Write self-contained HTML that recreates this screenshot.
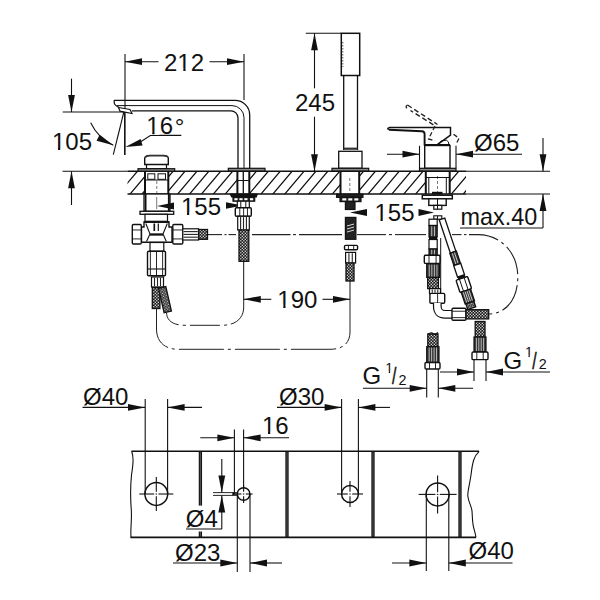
<!DOCTYPE html>
<html><head><meta charset="utf-8"><style>
html,body{margin:0;padding:0;background:#fff;}
svg{display:block;}
text{font-family:"Liberation Sans",sans-serif;fill:#111;}
</style></head><body>
<svg width="600" height="600" viewBox="0 0 600 600">
<defs>
<pattern id="br" width="3" height="3" patternUnits="userSpaceOnUse"><rect width="3" height="3" fill="#1a1a1a"/><rect x="0.2" y="0.2" width="1.2" height="1.2" fill="#fff"/><rect x="1.7" y="1.7" width="1.2" height="1.2" fill="#fff"/></pattern>
<clipPath id="hatchclip">
<path d="M127.5 171.3 H145 V194 H127.5 Z M168.3 171.3 H237.4 V194 H168.3 Z M249.3 171.3 H340.5 V194 H249.3 Z M359.2 171.3 H425.8 V194 H359.2 Z M449.7 171.3 H466 L466 194 H449.7 Z"/>
</clipPath>
</defs>
<rect width="600" height="600" fill="#fff"/>
<line x1="131.50" y1="451.30" x2="479.00" y2="451.30" stroke="#111" stroke-width="1.6" />
<line x1="130.50" y1="537.40" x2="476.00" y2="537.40" stroke="#111" stroke-width="1.6" />
<path d="M131.7 451.3 C134 458 133 465 131.5 475 C130.5 485 130.5 500 131.3 510 C132 520 130.3 528 131 537.4" stroke="#111" stroke-width="1.1" fill="none" />
<path d="M479.2 451.3 C474 456 472.5 462 471 475 C469.5 485 467.5 492 467.8 496 C468.5 502 471.5 506 472 511 C472.5 517 472.3 522 473.5 527 C474.5 531 475.5 534 476 537.4" stroke="#111" stroke-width="1.1" fill="none" />
<line x1="200.40" y1="451.30" x2="200.40" y2="537.40" stroke="#151515" stroke-width="3.3" />
<line x1="200.40" y1="452.30" x2="200.40" y2="536.40" stroke="#666" stroke-width="0.8" />
<line x1="287.00" y1="451.30" x2="287.00" y2="537.40" stroke="#151515" stroke-width="3.3" />
<line x1="287.00" y1="452.30" x2="287.00" y2="536.40" stroke="#666" stroke-width="0.8" />
<line x1="373.00" y1="451.30" x2="373.00" y2="537.40" stroke="#151515" stroke-width="3.3" />
<line x1="373.00" y1="452.30" x2="373.00" y2="536.40" stroke="#666" stroke-width="0.8" />
<line x1="460.00" y1="451.30" x2="460.00" y2="537.40" stroke="#151515" stroke-width="3.3" />
<line x1="460.00" y1="452.30" x2="460.00" y2="536.40" stroke="#666" stroke-width="0.8" />
<rect x="197.50" y="505.60" width="6.00" height="25.90" stroke="#fff" stroke-width="0" fill="#fff" />
<circle cx="156.3" cy="494" r="11.4" stroke="#111" stroke-width="1.5" fill="none"/>
<line x1="139.30" y1="494.00" x2="154.10" y2="494.00" stroke="#111" stroke-width="1.1" />
<line x1="158.50" y1="494.00" x2="173.30" y2="494.00" stroke="#111" stroke-width="1.1" />
<line x1="156.30" y1="477.00" x2="156.30" y2="491.80" stroke="#111" stroke-width="1.1" />
<line x1="156.30" y1="496.20" x2="156.30" y2="511.00" stroke="#111" stroke-width="1.1" />
<line x1="155.60" y1="494.00" x2="157.00" y2="494.00" stroke="#111" stroke-width="1.1" />
<circle cx="350" cy="494" r="8.4" stroke="#111" stroke-width="1.5" fill="none"/>
<line x1="337.00" y1="494.00" x2="347.80" y2="494.00" stroke="#111" stroke-width="1.1" />
<line x1="352.20" y1="494.00" x2="363.00" y2="494.00" stroke="#111" stroke-width="1.1" />
<line x1="350.00" y1="481.00" x2="350.00" y2="491.80" stroke="#111" stroke-width="1.1" />
<line x1="350.00" y1="496.20" x2="350.00" y2="507.00" stroke="#111" stroke-width="1.1" />
<line x1="349.30" y1="494.00" x2="350.70" y2="494.00" stroke="#111" stroke-width="1.1" />
<circle cx="437.6" cy="494.4" r="11.5" stroke="#111" stroke-width="1.5" fill="none"/>
<line x1="418.60" y1="494.40" x2="435.40" y2="494.40" stroke="#111" stroke-width="1.1" />
<line x1="439.80" y1="494.40" x2="456.60" y2="494.40" stroke="#111" stroke-width="1.1" />
<line x1="437.60" y1="475.40" x2="437.60" y2="492.20" stroke="#111" stroke-width="1.1" />
<line x1="437.60" y1="496.60" x2="437.60" y2="513.40" stroke="#111" stroke-width="1.1" />
<line x1="436.90" y1="494.40" x2="438.30" y2="494.40" stroke="#111" stroke-width="1.1" />
<circle cx="243.6" cy="494" r="6.3" stroke="#111" stroke-width="1.5" fill="none"/>
<line x1="234.60" y1="494.00" x2="241.40" y2="494.00" stroke="#111" stroke-width="1.1" />
<line x1="245.80" y1="494.00" x2="252.60" y2="494.00" stroke="#111" stroke-width="1.1" />
<line x1="243.60" y1="485.00" x2="243.60" y2="491.80" stroke="#111" stroke-width="1.1" />
<line x1="243.60" y1="496.20" x2="243.60" y2="503.00" stroke="#111" stroke-width="1.1" />
<line x1="242.90" y1="494.00" x2="244.30" y2="494.00" stroke="#111" stroke-width="1.1" />
<line x1="145.20" y1="399.00" x2="145.20" y2="494.00" stroke="#111" stroke-width="1.1" />
<line x1="167.60" y1="399.00" x2="167.60" y2="494.00" stroke="#111" stroke-width="1.1" />
<line x1="82.50" y1="407.40" x2="145.00" y2="407.40" stroke="#111" stroke-width="1.1" />
<path d="M145.00 407.40 L128.00 410.80 L128.00 404.00 Z" fill="#111" stroke="none"/>
<path d="M167.60 407.40 L184.60 404.00 L184.60 410.80 Z" fill="#111" stroke="none"/>
<line x1="167.60" y1="407.40" x2="202.00" y2="407.40" stroke="#111" stroke-width="1.1" />
<line x1="341.60" y1="399.00" x2="341.60" y2="494.00" stroke="#111" stroke-width="1.1" />
<line x1="358.40" y1="399.00" x2="358.40" y2="494.00" stroke="#111" stroke-width="1.1" />
<line x1="277.00" y1="407.40" x2="341.60" y2="407.40" stroke="#111" stroke-width="1.1" />
<path d="M341.60 407.40 L324.60 410.80 L324.60 404.00 Z" fill="#111" stroke="none"/>
<path d="M358.40 407.40 L375.40 404.00 L375.40 410.80 Z" fill="#111" stroke="none"/>
<line x1="358.40" y1="407.40" x2="390.00" y2="407.40" stroke="#111" stroke-width="1.1" />
<line x1="234.40" y1="429.50" x2="234.40" y2="494.00" stroke="#111" stroke-width="1.1" />
<line x1="243.60" y1="429.50" x2="243.60" y2="488.00" stroke="#111" stroke-width="1.1" />
<line x1="200.30" y1="437.80" x2="234.40" y2="437.80" stroke="#111" stroke-width="1.1" />
<path d="M234.40 437.80 L217.40 441.20 L217.40 434.40 Z" fill="#111" stroke="none"/>
<path d="M243.60 437.80 L260.60 434.40 L260.60 441.20 Z" fill="#111" stroke="none"/>
<line x1="243.60" y1="437.80" x2="289.00" y2="437.80" stroke="#111" stroke-width="1.1" />
<line x1="213.00" y1="492.60" x2="238.00" y2="492.60" stroke="#111" stroke-width="0.9" />
<line x1="213.00" y1="495.40" x2="238.00" y2="495.40" stroke="#111" stroke-width="0.9" />
<line x1="221.80" y1="459.00" x2="221.80" y2="492.60" stroke="#111" stroke-width="1.1" />
<path d="M221.80 492.60 L218.40 475.60 L225.20 475.60 Z" fill="#111" stroke="none"/>
<path d="M221.80 495.40 L225.20 512.40 L218.40 512.40 Z" fill="#111" stroke="none"/>
<line x1="221.80" y1="495.40" x2="221.80" y2="529.00" stroke="#111" stroke-width="1.1" />
<line x1="186.00" y1="529.00" x2="222.00" y2="529.00" stroke="#111" stroke-width="1.1" />
<line x1="237.30" y1="494.00" x2="237.30" y2="572.00" stroke="#111" stroke-width="1.1" />
<line x1="250.00" y1="494.00" x2="250.00" y2="572.00" stroke="#111" stroke-width="1.1" />
<path d="M237.30 494.00 L232.30 495.60 L232.30 492.40 Z" fill="#111" stroke="none"/>
<line x1="173.00" y1="563.00" x2="237.30" y2="563.00" stroke="#111" stroke-width="1.1" />
<path d="M237.30 563.00 L220.30 566.40 L220.30 559.60 Z" fill="#111" stroke="none"/>
<path d="M250.00 563.00 L267.00 559.60 L267.00 566.40 Z" fill="#111" stroke="none"/>
<line x1="250.00" y1="563.00" x2="282.00" y2="563.00" stroke="#111" stroke-width="1.1" />
<line x1="426.30" y1="494.00" x2="426.30" y2="571.00" stroke="#111" stroke-width="1.1" />
<line x1="448.80" y1="494.00" x2="448.80" y2="571.00" stroke="#111" stroke-width="1.1" />
<line x1="392.00" y1="563.00" x2="426.30" y2="563.00" stroke="#111" stroke-width="1.1" />
<path d="M426.30 563.00 L409.30 566.40 L409.30 559.60 Z" fill="#111" stroke="none"/>
<path d="M448.80 563.00 L465.80 559.60 L465.80 566.40 Z" fill="#111" stroke="none"/>
<line x1="448.80" y1="563.00" x2="512.50" y2="563.00" stroke="#111" stroke-width="1.1" />
<g clip-path="url(#hatchclip)"><path d="M82.10 194.5 L102.10 170.8 M94.00 194.5 L114.00 170.8 M105.90 194.5 L125.90 170.8 M117.80 194.5 L137.80 170.8 M129.70 194.5 L149.70 170.8 M141.60 194.5 L161.60 170.8 M153.50 194.5 L173.50 170.8 M165.40 194.5 L185.40 170.8 M177.30 194.5 L197.30 170.8 M189.20 194.5 L209.20 170.8 M201.10 194.5 L221.10 170.8 M213.00 194.5 L233.00 170.8 M224.90 194.5 L244.90 170.8 M236.80 194.5 L256.80 170.8 M248.70 194.5 L268.70 170.8 M260.60 194.5 L280.60 170.8 M272.50 194.5 L292.50 170.8 M284.40 194.5 L304.40 170.8 M296.30 194.5 L316.30 170.8 M308.20 194.5 L328.20 170.8 M320.10 194.5 L340.10 170.8 M332.00 194.5 L352.00 170.8 M343.90 194.5 L363.90 170.8 M355.80 194.5 L375.80 170.8 M367.70 194.5 L387.70 170.8 M379.60 194.5 L399.60 170.8 M391.50 194.5 L411.50 170.8 M403.40 194.5 L423.40 170.8 M415.30 194.5 L435.30 170.8 M427.20 194.5 L447.20 170.8 M439.10 194.5 L459.10 170.8 M451.00 194.5 L471.00 170.8 M462.90 194.5 L482.90 170.8 M474.80 194.5 L494.80 170.8 M486.70 194.5 L506.70 170.8 M498.60 194.5 L518.60 170.8" stroke="#111" stroke-width="1.25" fill="none"/></g>
<line x1="127.50" y1="171.30" x2="466.00" y2="171.30" stroke="#111" stroke-width="1.5" />
<line x1="62.50" y1="171.30" x2="127.50" y2="171.30" stroke="#111" stroke-width="1.1" />
<line x1="466.00" y1="171.30" x2="550.00" y2="171.30" stroke="#111" stroke-width="1.1" />
<line x1="127.50" y1="194.00" x2="466.00" y2="194.00" stroke="#111" stroke-width="1.5" />
<line x1="466.00" y1="194.00" x2="550.00" y2="194.00" stroke="#111" stroke-width="1.1" />
<line x1="125.00" y1="54.00" x2="125.00" y2="155.00" stroke="#111" stroke-width="1.1" />
<line x1="244.00" y1="54.00" x2="244.00" y2="100.00" stroke="#111" stroke-width="1.1" />
<path d="M125.00 61.70 L142.00 58.30 L142.00 65.10 Z" fill="#111" stroke="none"/>
<line x1="125.00" y1="61.70" x2="158.50" y2="61.70" stroke="#111" stroke-width="1.1" />
<path d="M244.00 61.70 L227.00 65.10 L227.00 58.30 Z" fill="#111" stroke="none"/>
<line x1="209.50" y1="61.70" x2="244.00" y2="61.70" stroke="#111" stroke-width="1.1" />
<line x1="71.50" y1="78.70" x2="71.50" y2="112.00" stroke="#111" stroke-width="1.1" />
<path d="M71.50 112.00 L68.10 95.00 L74.90 95.00 Z" fill="#111" stroke="none"/>
<line x1="62.70" y1="112.00" x2="124.50" y2="112.00" stroke="#111" stroke-width="1.1" />
<path d="M71.50 171.30 L74.90 188.30 L68.10 188.30 Z" fill="#111" stroke="none"/>
<line x1="71.50" y1="171.30" x2="71.50" y2="205.00" stroke="#111" stroke-width="1.1" />
<line x1="124.60" y1="108.00" x2="124.60" y2="155.00" stroke="#111" stroke-width="1.1" />
<line x1="124.60" y1="109.00" x2="113.30" y2="154.70" stroke="#111" stroke-width="1.1" />
<path d="M90.7 122.7 Q 98 138 113.3 145.3" stroke="#111" stroke-width="1.1" fill="none" />
<path d="M113.30 145.30 L96.57 140.74 L99.62 134.66 Z" fill="#111" stroke="none"/>
<path d="M138 143.5 L150.7 135.4 L181.3 135.4" stroke="#111" stroke-width="1.1" fill="none" />
<path d="M125.30 147.00 L140.65 138.95 L142.57 145.47 Z" fill="#111" stroke="none"/>
<line x1="305.80" y1="33.30" x2="341.50" y2="33.30" stroke="#111" stroke-width="1.1" />
<path d="M314.50 33.30 L317.90 50.30 L311.10 50.30 Z" fill="#111" stroke="none"/>
<line x1="314.50" y1="33.30" x2="314.50" y2="88.30" stroke="#111" stroke-width="1.1" />
<line x1="314.50" y1="116.70" x2="314.50" y2="171.30" stroke="#111" stroke-width="1.1" />
<path d="M314.50 171.30 L311.10 154.30 L317.90 154.30 Z" fill="#111" stroke="none"/>
<line x1="387.00" y1="154.20" x2="419.50" y2="154.20" stroke="#111" stroke-width="1.1" />
<path d="M419.50 154.20 L402.50 157.60 L402.50 150.80 Z" fill="#111" stroke="none"/>
<path d="M456.00 154.20 L473.00 150.80 L473.00 157.60 Z" fill="#111" stroke="none"/>
<line x1="456.00" y1="154.20" x2="522.00" y2="154.20" stroke="#111" stroke-width="1.1" />
<line x1="543.00" y1="138.00" x2="543.00" y2="171.30" stroke="#111" stroke-width="1.1" />
<path d="M543.00 171.30 L539.60 154.30 L546.40 154.30 Z" fill="#111" stroke="none"/>
<path d="M543.00 194.00 L546.40 211.00 L539.60 211.00 Z" fill="#111" stroke="none"/>
<line x1="543.00" y1="194.00" x2="543.00" y2="228.00" stroke="#111" stroke-width="1.1" />
<line x1="460.00" y1="228.00" x2="543.00" y2="228.00" stroke="#111" stroke-width="1.1" />
<path d="M243.80 299.30 L260.80 295.90 L260.80 302.70 Z" fill="#111" stroke="none"/>
<line x1="243.80" y1="299.30" x2="271.30" y2="299.30" stroke="#111" stroke-width="1.1" />
<line x1="322.50" y1="299.30" x2="350.00" y2="299.30" stroke="#111" stroke-width="1.1" />
<path d="M350.00 299.30 L333.00 302.70 L333.00 295.90 Z" fill="#111" stroke="none"/>
<path d="M114 100.3 L235 100.3 A14.7 14.7 0 0 1 249.7 115 L249.7 168.3" stroke="#111" stroke-width="1.3" fill="none" />
<path d="M116.5 105.6 L232 105.6 A12 12 0 0 1 244 117.6 L244 168.3" stroke="#111" stroke-width="1.0" fill="none" />
<path d="M132 110.8 L230.8 110.8 A7.2 7.2 0 0 1 238 118 L238 168.3" stroke="#111" stroke-width="1.3" fill="none" />
<path d="M114 100.3 L114.5 104 Q116 106.5 119 107.3" stroke="#111" stroke-width="1.2" fill="none" />
<path d="M118.5 107.5 L130 109.5 L132 113.5 L120 111.2 Z" stroke="#111" stroke-width="1.2" fill="#fff" />
<rect x="228.30" y="168.30" width="36.70" height="2.70" stroke="#111" stroke-width="1.2" fill="#888" />
<rect x="341.30" y="33.30" width="18.40" height="42.20" stroke="#111" stroke-width="1.5" fill="#fff" />
<line x1="342.80" y1="42.00" x2="342.80" y2="67.00" stroke="#555" stroke-width="1" stroke-dasharray="1.5 1.5"/>
<line x1="343.70" y1="75.50" x2="343.70" y2="150.00" stroke="#111" stroke-width="1.3" />
<line x1="357.50" y1="75.50" x2="357.50" y2="150.00" stroke="#111" stroke-width="1.3" />
<rect x="343.70" y="147.60" width="13.80" height="2.20" stroke="none" stroke-width="0" fill="#333" />
<rect x="338.70" y="151.30" width="23.30" height="17.00" stroke="#111" stroke-width="1.3" fill="#fff" />
<rect x="332.00" y="168.30" width="36.70" height="2.70" stroke="#111" stroke-width="1.2" fill="#888" />
<path d="M389 127.6 L450.5 127.6 L450.5 135 L437 144.8" stroke="#111" stroke-width="1.5" fill="none" />
<path d="M389 129.8 L421.8 131.3 Q424.6 131.5 424.6 134 L424.6 145.5" stroke="#111" stroke-width="1.9" fill="none" />
<path d="M389 127.6 Q386.6 128.6 389 129.6" stroke="#111" stroke-width="1.5" fill="none" />
<path d="M407.5 105 L437.5 124.5" stroke="#222" stroke-width="1.4" fill="none" stroke-dasharray="5 3"/>
<path d="M410.5 110.5 L434 125.2" stroke="#222" stroke-width="1.4" fill="none" stroke-dasharray="5 3" stroke-dashoffset="2"/>
<path d="M407.5 105 Q405 106.5 407 108.3" stroke="#222" stroke-width="1.3" fill="none" />
<path d="M435 126 L428.6 139 L435 140.8 M453.5 134.2 L459 138.3 L456 144.2" stroke="#222" stroke-width="1.3" fill="none" stroke-dasharray="4.5 2.5"/>
<path d="M437.5 144.3 Q441 139.5 446.5 140.2 Q449.3 141.5 448.8 144.5" stroke="#111" stroke-width="1.0" fill="none" />
<line x1="424.60" y1="145.00" x2="450.00" y2="145.00" stroke="#111" stroke-width="2.0" />
<rect x="424.70" y="145.50" width="25.30" height="22.80" stroke="#111" stroke-width="1.4" fill="#fff" />
<line x1="419.50" y1="145.80" x2="419.50" y2="168.30" stroke="#111" stroke-width="1.1" />
<line x1="456.00" y1="145.80" x2="456.00" y2="168.30" stroke="#111" stroke-width="1.1" />
<rect x="419.50" y="168.30" width="36.50" height="2.70" stroke="#111" stroke-width="1.2" fill="#888" />
<rect x="146.50" y="163.50" width="20.00" height="5.20" stroke="#111" stroke-width="1.2" fill="#fff" />
<path d="M144.7 164.5 L144.7 158.3 Q145 155.6 150 155.4 L163 155.4 Q168.3 155.6 168.3 158.3 L168.3 164.5 Z" stroke="#111" stroke-width="1.4" fill="#fff" />
<path d="M145.5 157.5 Q146 155.8 150 155.8 L163 155.8 Q167.5 155.8 167.6 157.5" stroke="#333" stroke-width="1.4" fill="none" />
<rect x="138.00" y="168.70" width="36.70" height="2.50" stroke="#111" stroke-width="1.2" fill="#888" />
<line x1="145.00" y1="171.30" x2="145.00" y2="194.00" stroke="#111" stroke-width="2.0" />
<line x1="168.30" y1="171.30" x2="168.30" y2="194.00" stroke="#111" stroke-width="2.0" />
<line x1="237.40" y1="171.30" x2="237.40" y2="194.00" stroke="#111" stroke-width="2.0" />
<line x1="249.30" y1="171.30" x2="249.30" y2="194.00" stroke="#111" stroke-width="2.0" />
<line x1="340.50" y1="171.30" x2="340.50" y2="194.00" stroke="#111" stroke-width="2.0" />
<line x1="359.20" y1="171.30" x2="359.20" y2="194.00" stroke="#111" stroke-width="2.0" />
<line x1="425.80" y1="171.30" x2="425.80" y2="194.00" stroke="#111" stroke-width="2.0" />
<line x1="449.70" y1="171.30" x2="449.70" y2="194.00" stroke="#111" stroke-width="2.0" />
<line x1="145.00" y1="180.00" x2="168.30" y2="180.00" stroke="#111" stroke-width="1.0" />
<rect x="147.80" y="173.80" width="7.00" height="5.50" stroke="#111" stroke-width="1.0" fill="none" />
<rect x="158.00" y="173.80" width="7.50" height="5.50" stroke="#111" stroke-width="1.0" fill="none" />
<line x1="156.80" y1="181.00" x2="156.80" y2="194.00" stroke="#555" stroke-width="0.8" stroke-dasharray="3 2"/>
<line x1="349.80" y1="178.00" x2="349.80" y2="194.00" stroke="#555" stroke-width="0.8" stroke-dasharray="3 2"/>
<line x1="437.50" y1="176.00" x2="437.50" y2="194.00" stroke="#555" stroke-width="0.8" stroke-dasharray="3 2"/>
<line x1="428.80" y1="177.50" x2="428.80" y2="193.50" stroke="#111" stroke-width="1.0" />
<line x1="446.30" y1="177.50" x2="446.30" y2="193.50" stroke="#111" stroke-width="1.0" />
<line x1="425.80" y1="177.50" x2="449.70" y2="177.50" stroke="#111" stroke-width="1.0" />
<line x1="243.30" y1="172.00" x2="243.30" y2="193.50" stroke="#111" stroke-width="1.3" />
<line x1="237.40" y1="180.50" x2="249.30" y2="180.50" stroke="#111" stroke-width="1.0" />
<rect x="144.00" y="194.00" width="26.00" height="17.30" stroke="#111" stroke-width="1.3" fill="#fff" />
<line x1="145.60" y1="194.00" x2="145.60" y2="211.30" stroke="#111" stroke-width="1.8" />
<line x1="168.80" y1="194.00" x2="168.80" y2="211.30" stroke="#111" stroke-width="1.8" />
<line x1="156.70" y1="197.00" x2="156.70" y2="209.00" stroke="#555" stroke-width="0.8" />
<rect x="140.00" y="211.30" width="33.70" height="3.00" stroke="#111" stroke-width="1.3" fill="#fff" />
<rect x="145.00" y="214.30" width="22.50" height="7.00" stroke="#111" stroke-width="1.2" fill="#fff" />
<path d="M144 222 L169 222 L169 227 L172 227 L172 242.3 L141.5 242.3 L141.5 227 L144 227 Z" stroke="#111" stroke-width="1.4" fill="#fff" />
<line x1="144.00" y1="222.00" x2="169.00" y2="222.00" stroke="#111" stroke-width="1.9" />
<path d="M145.8 223.5 L150 234 L163 234 L167.3 223.5" stroke="#111" stroke-width="1.1" fill="none" />
<path d="M146.5 241.5 L149.5 235 L163.5 235 L166.3 241.5" stroke="#111" stroke-width="1.1" fill="none" />
<line x1="149.50" y1="234.50" x2="163.50" y2="234.50" stroke="#111" stroke-width="1.6" />
<line x1="154.30" y1="223.50" x2="154.30" y2="231.00" stroke="#111" stroke-width="1.7" />
<line x1="158.30" y1="223.50" x2="158.30" y2="231.00" stroke="#111" stroke-width="1.2" />
<rect x="132.30" y="224.50" width="9.00" height="19.50" stroke="#111" stroke-width="1.4" fill="#fff"  rx="1.2"/>
<line x1="132.30" y1="229.96" x2="141.30" y2="229.96" stroke="#111" stroke-width="0.9" />
<line x1="132.30" y1="238.93" x2="141.30" y2="238.93" stroke="#111" stroke-width="0.9" />
<rect x="172.80" y="224.50" width="10.00" height="19.50" stroke="#111" stroke-width="1.4" fill="#fff"  rx="1.2"/>
<line x1="172.80" y1="229.96" x2="182.80" y2="229.96" stroke="#111" stroke-width="0.9" />
<line x1="172.80" y1="238.93" x2="182.80" y2="238.93" stroke="#111" stroke-width="0.9" />
<rect x="182.80" y="228.80" width="15.80" height="11.20" stroke="#111" stroke-width="1.2" fill="#fff" />
<line x1="183.60" y1="231.60" x2="197.80" y2="231.60" stroke="#222" stroke-width="1.1" />
<line x1="183.60" y1="234.40" x2="197.80" y2="234.40" stroke="#222" stroke-width="1.1" />
<line x1="183.60" y1="237.20" x2="197.80" y2="237.20" stroke="#222" stroke-width="1.1" />
<rect x="198.60" y="229.50" width="8.90" height="9.80" stroke="#111" stroke-width="1.3" fill="url(#br)" />
<rect x="150.00" y="242.50" width="13.80" height="8.80" stroke="#111" stroke-width="1.2" fill="#fff" />
<rect x="147.50" y="251.30" width="18.00" height="24.50" stroke="#111" stroke-width="1.4" fill="#fff"  rx="1.2"/>
<line x1="150.38" y1="251.30" x2="150.38" y2="275.80" stroke="#111" stroke-width="0.9" />
<line x1="156.50" y1="251.30" x2="156.50" y2="275.80" stroke="#111" stroke-width="0.9" />
<line x1="162.62" y1="251.30" x2="162.62" y2="275.80" stroke="#111" stroke-width="0.9" />
<line x1="147.50" y1="269.00" x2="165.50" y2="269.00" stroke="#111" stroke-width="1.1" />
<rect x="151.50" y="277.00" width="12.00" height="10.00" stroke="#111" stroke-width="1.2" fill="#fff" />
<line x1="154.50" y1="277.80" x2="154.50" y2="286.20" stroke="#222" stroke-width="1.1" />
<line x1="157.50" y1="277.80" x2="157.50" y2="286.20" stroke="#222" stroke-width="1.1" />
<line x1="160.50" y1="277.80" x2="160.50" y2="286.20" stroke="#222" stroke-width="1.1" />
<rect x="152.30" y="287.50" width="7.60" height="21.00" stroke="#111" stroke-width="1.3" fill="url(#br)" />
<g transform="rotate(-13 162 288)">
<rect x="158.50" y="287.50" width="7.50" height="25.00" stroke="#111" stroke-width="1.3" fill="url(#br)" />
</g>
<path d="M242.50 205.50 L226.00 208.80 L226.00 202.20 Z" fill="#111" stroke="none"/>
<path d="M229.3 193.6 L258 193.6 L256.7 197.6 L231.3 197.6 Z" stroke="none" stroke-width="0" fill="#111" />
<rect x="233.00" y="197.30" width="21.70" height="3.90" stroke="#111" stroke-width="1.2" fill="#222" />
<rect x="234.40" y="198.20" width="3.20" height="2.10" stroke="none" stroke-width="0" fill="#fff" />
<rect x="239.40" y="198.20" width="3.20" height="2.10" stroke="none" stroke-width="0" fill="#fff" />
<rect x="244.30" y="198.20" width="3.20" height="2.10" stroke="none" stroke-width="0" fill="#fff" />
<rect x="250.00" y="198.20" width="3.20" height="2.10" stroke="none" stroke-width="0" fill="#fff" />
<rect x="237.30" y="201.20" width="12.00" height="6.50" stroke="#111" stroke-width="1.2" fill="#fff" />
<line x1="240.80" y1="201.20" x2="240.80" y2="207.70" stroke="#111" stroke-width="1.0" />
<line x1="245.80" y1="201.20" x2="245.80" y2="207.70" stroke="#111" stroke-width="1.0" />
<rect x="235.30" y="207.70" width="16.00" height="8.60" stroke="#111" stroke-width="1.4" fill="#fff"  rx="1.2"/>
<line x1="239.78" y1="207.70" x2="239.78" y2="216.30" stroke="#111" stroke-width="0.9" />
<line x1="243.62" y1="207.70" x2="243.62" y2="216.30" stroke="#111" stroke-width="0.9" />
<line x1="247.46" y1="207.70" x2="247.46" y2="216.30" stroke="#111" stroke-width="0.9" />
<rect x="237.70" y="216.30" width="11.60" height="13.70" stroke="#111" stroke-width="1.2" fill="#fff" />
<line x1="240.60" y1="217.10" x2="240.60" y2="229.20" stroke="#222" stroke-width="1.1" />
<line x1="243.50" y1="217.10" x2="243.50" y2="229.20" stroke="#222" stroke-width="1.1" />
<line x1="246.40" y1="217.10" x2="246.40" y2="229.20" stroke="#222" stroke-width="1.1" />
<rect x="239.00" y="230.00" width="9.80" height="31.30" stroke="#111" stroke-width="1.3" fill="url(#br)" />
<rect x="336.60" y="194.30" width="26.30" height="3.00" stroke="#111" stroke-width="1.3" fill="#222" />
<rect x="340.00" y="197.30" width="21.00" height="4.30" stroke="#111" stroke-width="1.2" fill="#222" />
<rect x="342.30" y="198.30" width="4.00" height="2.20" stroke="none" stroke-width="0" fill="#fff" />
<rect x="348.30" y="198.30" width="4.00" height="2.20" stroke="none" stroke-width="0" fill="#fff" />
<rect x="354.30" y="198.30" width="4.00" height="2.20" stroke="none" stroke-width="0" fill="#fff" />
<rect x="345.40" y="201.60" width="9.60" height="7.90" stroke="#111" stroke-width="1.2" fill="#222" />
<rect x="345.40" y="217.40" width="10.50" height="21.90" stroke="#111" stroke-width="1.2" fill="#222" />
<path d="M347 226 L354 224 M347 229 L354 227 M347 232 L354 230" stroke="#ddd" stroke-width="1.0" fill="none" />
<rect x="344.50" y="245.40" width="13.10" height="4.40" stroke="#111" stroke-width="1.4" fill="#fff"  rx="1.2"/>
<line x1="348.43" y1="245.40" x2="348.43" y2="249.80" stroke="#111" stroke-width="0.9" />
<line x1="353.67" y1="245.40" x2="353.67" y2="249.80" stroke="#111" stroke-width="0.9" />
<rect x="345.60" y="252.40" width="10.00" height="10.60" stroke="#111" stroke-width="1.2" fill="#fff" />
<line x1="348.93" y1="253.20" x2="348.93" y2="262.20" stroke="#222" stroke-width="1.1" />
<line x1="352.27" y1="253.20" x2="352.27" y2="262.20" stroke="#222" stroke-width="1.1" />
<rect x="346.00" y="263.00" width="8.00" height="18.00" stroke="#111" stroke-width="1.3" fill="url(#br)" />
<rect x="432.00" y="191.80" width="10.50" height="2.50" stroke="none" stroke-width="0" fill="#111" />
<rect x="422.30" y="195.20" width="30.00" height="3.60" stroke="#111" stroke-width="1.5" fill="#fff" />
<rect x="428.80" y="198.80" width="17.40" height="6.60" stroke="#111" stroke-width="1.4" fill="#fff" />
<line x1="437.50" y1="198.80" x2="437.50" y2="205.40" stroke="#111" stroke-width="1.0" />
<rect x="433.80" y="205.40" width="8.00" height="3.80" stroke="#111" stroke-width="1.2" fill="#fff" />
<line x1="437.50" y1="205.40" x2="437.50" y2="209.20" stroke="#111" stroke-width="1.0" />
<rect x="433.80" y="215.80" width="8.00" height="3.40" stroke="#111" stroke-width="1.1" fill="#fff" />
<line x1="437.50" y1="215.80" x2="437.50" y2="219.20" stroke="#111" stroke-width="1.0" />
<line x1="440.70" y1="238.00" x2="440.70" y2="294.00" stroke="#111" stroke-width="1.0" />
<rect x="429.00" y="219.20" width="8.20" height="6.30" stroke="#111" stroke-width="1.2" fill="#fff" />
<rect x="429.00" y="225.50" width="8.20" height="11.50" stroke="#111" stroke-width="1.2" fill="#333" />
<line x1="431.73" y1="226.30" x2="431.73" y2="236.20" stroke="#ddd" stroke-width="0.8" />
<line x1="434.47" y1="226.30" x2="434.47" y2="236.20" stroke="#ddd" stroke-width="0.8" />
<rect x="429.00" y="237.00" width="8.20" height="2.50" stroke="none" stroke-width="0" fill="#111" />
<rect x="429.00" y="239.50" width="8.20" height="9.50" stroke="#111" stroke-width="1.2" fill="#fff" />
<rect x="429.00" y="249.00" width="8.20" height="6.30" stroke="#111" stroke-width="1.2" fill="#333" />
<line x1="431.73" y1="249.80" x2="431.73" y2="254.50" stroke="#ddd" stroke-width="0.8" />
<line x1="434.47" y1="249.80" x2="434.47" y2="254.50" stroke="#ddd" stroke-width="0.8" />
<rect x="424.30" y="255.30" width="15.70" height="8.10" stroke="#111" stroke-width="1.4" fill="#fff"  rx="1.2"/>
<line x1="429.01" y1="255.30" x2="429.01" y2="263.40" stroke="#111" stroke-width="0.9" />
<line x1="436.07" y1="255.30" x2="436.07" y2="263.40" stroke="#111" stroke-width="0.9" />
<rect x="426.70" y="263.80" width="12.80" height="13.60" stroke="#111" stroke-width="1.2" fill="#333" />
<line x1="429.26" y1="264.60" x2="429.26" y2="276.60" stroke="#ddd" stroke-width="0.8" />
<line x1="431.82" y1="264.60" x2="431.82" y2="276.60" stroke="#ddd" stroke-width="0.8" />
<line x1="434.38" y1="264.60" x2="434.38" y2="276.60" stroke="#ddd" stroke-width="0.8" />
<line x1="436.94" y1="264.60" x2="436.94" y2="276.60" stroke="#ddd" stroke-width="0.8" />
<rect x="427.70" y="277.60" width="10.70" height="11.00" stroke="#111" stroke-width="1.3" fill="url(#br)" />
<rect x="429.50" y="288.60" width="11.00" height="5.00" stroke="#111" stroke-width="1.2" fill="#fff" />
<line x1="432.25" y1="289.40" x2="432.25" y2="292.80" stroke="#222" stroke-width="1.1" />
<line x1="435.00" y1="289.40" x2="435.00" y2="292.80" stroke="#222" stroke-width="1.1" />
<line x1="437.75" y1="289.40" x2="437.75" y2="292.80" stroke="#222" stroke-width="1.1" />
<rect x="429.90" y="293.40" width="14.80" height="9.90" stroke="#111" stroke-width="1.4" fill="#fff"  rx="1.2"/>
<line x1="437.60" y1="293.40" x2="437.60" y2="303.30" stroke="#111" stroke-width="0.9" />
<path d="M437.3 303 L437.3 306 Q437.3 314.3 445 314.3 L452.5 314.3" stroke="#111" stroke-width="8.8" fill="none" />
<path d="M437.3 303 L437.3 306 Q437.3 314.3 445 314.3 L452.5 314.3" stroke="#fff" stroke-width="6.4" fill="none" />
<rect x="452.00" y="308.20" width="14.00" height="12.10" stroke="#111" stroke-width="1.4" fill="#fff"  rx="1.2"/>
<line x1="452.00" y1="311.22" x2="466.00" y2="311.22" stroke="#111" stroke-width="0.9" />
<line x1="452.00" y1="317.64" x2="466.00" y2="317.64" stroke="#111" stroke-width="0.9" />
<rect x="466.00" y="309.70" width="22.70" height="9.20" stroke="#111" stroke-width="1.3" fill="url(#br)" />
<g transform="rotate(-18.5 442 219)">
<rect x="439.10" y="219.00" width="5.80" height="35.00" stroke="#111" stroke-width="1.3" fill="#fff" />
<rect x="438.50" y="254.00" width="7.00" height="13.00" stroke="#111" stroke-width="1.2" fill="#333" />
<line x1="440.83" y1="254.80" x2="440.83" y2="266.20" stroke="#ddd" stroke-width="0.8" />
<line x1="443.17" y1="254.80" x2="443.17" y2="266.20" stroke="#ddd" stroke-width="0.8" />
<rect x="438.30" y="267.00" width="7.40" height="12.00" stroke="#111" stroke-width="1.3" fill="#fff" />
<rect x="438.30" y="279.00" width="7.40" height="2.50" stroke="none" stroke-width="0" fill="#111" />
<rect x="435.80" y="281.50" width="12.20" height="13.00" stroke="#111" stroke-width="1.4" fill="#fff"  rx="1.2"/>
<line x1="439.46" y1="281.50" x2="439.46" y2="294.50" stroke="#111" stroke-width="0.9" />
<line x1="444.34" y1="281.50" x2="444.34" y2="294.50" stroke="#111" stroke-width="0.9" />
<rect x="436.90" y="294.50" width="10.00" height="12.50" stroke="#111" stroke-width="1.2" fill="#333" />
<line x1="438.90" y1="295.30" x2="438.90" y2="306.20" stroke="#ddd" stroke-width="0.8" />
<line x1="440.90" y1="295.30" x2="440.90" y2="306.20" stroke="#ddd" stroke-width="0.8" />
<line x1="442.90" y1="295.30" x2="442.90" y2="306.20" stroke="#ddd" stroke-width="0.8" />
<line x1="444.90" y1="295.30" x2="444.90" y2="306.20" stroke="#ddd" stroke-width="0.8" />
<rect x="437.70" y="307.00" width="8.40" height="6.00" stroke="#111" stroke-width="1.3" fill="url(#br)" />
</g>
<rect x="427.80" y="334.00" width="10.20" height="13.00" stroke="#111" stroke-width="1.3" fill="url(#br)" />
<path d="M427.8 334.5 Q431 332 433 333.5 Q436 335 438 332.5" stroke="#111" stroke-width="1.3" fill="none" />
<rect x="426.70" y="346.70" width="12.30" height="15.80" stroke="#111" stroke-width="1.2" fill="#333" />
<line x1="429.16" y1="347.50" x2="429.16" y2="361.70" stroke="#ddd" stroke-width="0.8" />
<line x1="431.62" y1="347.50" x2="431.62" y2="361.70" stroke="#ddd" stroke-width="0.8" />
<line x1="434.08" y1="347.50" x2="434.08" y2="361.70" stroke="#ddd" stroke-width="0.8" />
<line x1="436.54" y1="347.50" x2="436.54" y2="361.70" stroke="#ddd" stroke-width="0.8" />
<rect x="425.00" y="362.50" width="15.00" height="6.50" stroke="#111" stroke-width="1.4" fill="#fff"  rx="1.2"/>
<line x1="429.50" y1="362.50" x2="429.50" y2="369.00" stroke="#111" stroke-width="0.9" />
<line x1="435.50" y1="362.50" x2="435.50" y2="369.00" stroke="#111" stroke-width="0.9" />
<line x1="426.70" y1="369.00" x2="426.70" y2="397.50" stroke="#111" stroke-width="1.1" />
<line x1="438.30" y1="369.00" x2="438.30" y2="397.50" stroke="#111" stroke-width="1.1" />
<rect x="475.20" y="321.50" width="9.80" height="15.50" stroke="#111" stroke-width="1.3" fill="url(#br)" />
<rect x="474.00" y="337.00" width="12.00" height="15.00" stroke="#111" stroke-width="1.2" fill="#333" />
<line x1="476.40" y1="337.80" x2="476.40" y2="351.20" stroke="#ddd" stroke-width="0.8" />
<line x1="478.80" y1="337.80" x2="478.80" y2="351.20" stroke="#ddd" stroke-width="0.8" />
<line x1="481.20" y1="337.80" x2="481.20" y2="351.20" stroke="#ddd" stroke-width="0.8" />
<line x1="483.60" y1="337.80" x2="483.60" y2="351.20" stroke="#ddd" stroke-width="0.8" />
<rect x="472.00" y="352.00" width="16.00" height="7.60" stroke="#111" stroke-width="1.4" fill="#fff"  rx="1.2"/>
<line x1="476.80" y1="352.00" x2="476.80" y2="359.60" stroke="#111" stroke-width="0.9" />
<line x1="483.20" y1="352.00" x2="483.20" y2="359.60" stroke="#111" stroke-width="0.9" />
<line x1="474.00" y1="359.60" x2="474.00" y2="381.00" stroke="#111" stroke-width="1.1" />
<line x1="486.00" y1="359.60" x2="486.00" y2="381.00" stroke="#111" stroke-width="1.1" />
<line x1="363.00" y1="388.30" x2="426.70" y2="388.30" stroke="#111" stroke-width="1.1" />
<path d="M426.70 388.30 L409.70 391.70 L409.70 384.90 Z" fill="#111" stroke="none"/>
<path d="M438.30 388.30 L455.30 384.90 L455.30 391.70 Z" fill="#111" stroke="none"/>
<line x1="438.30" y1="388.30" x2="473.00" y2="388.30" stroke="#111" stroke-width="1.1" />
<line x1="440.00" y1="372.00" x2="474.00" y2="372.00" stroke="#111" stroke-width="1.1" />
<path d="M474.00 372.00 L457.00 375.40 L457.00 368.60 Z" fill="#111" stroke="none"/>
<path d="M486.00 372.00 L503.00 368.60 L503.00 375.40 Z" fill="#111" stroke="none"/>
<line x1="486.00" y1="372.00" x2="550.00" y2="372.00" stroke="#111" stroke-width="1.1" />
<line x1="208.00" y1="234.60" x2="222.00" y2="234.60" stroke="#222" stroke-width="1.1" />
<line x1="224.50" y1="234.60" x2="226.50" y2="234.60" stroke="#222" stroke-width="1.1" />
<line x1="228.50" y1="234.60" x2="236.00" y2="234.60" stroke="#222" stroke-width="1.1" />
<line x1="252.00" y1="234.60" x2="290.50" y2="234.60" stroke="#222" stroke-width="1.1" />
<line x1="293.00" y1="234.60" x2="296.00" y2="234.60" stroke="#222" stroke-width="1.1" />
<line x1="299.00" y1="234.60" x2="342.00" y2="234.60" stroke="#222" stroke-width="1.1" />
<line x1="357.00" y1="234.60" x2="386.00" y2="234.60" stroke="#222" stroke-width="1.1" />
<line x1="389.00" y1="234.60" x2="392.00" y2="234.60" stroke="#222" stroke-width="1.1" />
<line x1="395.00" y1="234.60" x2="426.00" y2="234.60" stroke="#222" stroke-width="1.1" />
<line x1="452.00" y1="234.60" x2="461.50" y2="234.60" stroke="#222" stroke-width="1.1" />
<line x1="464.00" y1="234.60" x2="466.50" y2="234.60" stroke="#222" stroke-width="1.1" />
<path d="M469 234.6 L478 234.6 C500 234.6 517.8 252 517.8 277 C517.8 300 505 314 489 314" stroke="#222" stroke-width="1.1" fill="none" stroke-dasharray="30 4 3 4"/>
<line x1="243.70" y1="261.30" x2="243.70" y2="300.00" stroke="#111" stroke-width="1.0" />
<path d="M243.7 300 L243.7 307 C243.7 318 236 325.3 222 325.3 L185 325.3 C172 325.3 166.5 320 166.5 312" stroke="#222" stroke-width="1.0" fill="none" stroke-dasharray="30 4 3 4"/>
<line x1="350.00" y1="281.00" x2="350.00" y2="300.00" stroke="#111" stroke-width="1.0" />
<path d="M350 300 L350 332 C350 343 343 349.3 330 349.3 L178 349.3 C165 349.3 157 342 156.5 330 L156.5 308" stroke="#222" stroke-width="1.0" fill="none" stroke-dasharray="45 4 3 4"/>
<path d="M157.00 206.00 L174.00 202.60 L174.00 209.40 Z" fill="#111" stroke="none"/>
<path d="M350.00 212.50 L367.00 209.10 L367.00 215.90 Z" fill="#111" stroke="none"/>
<path d="M434.00 212.50 L418.50 215.90 L418.50 209.10 Z" fill="#111" stroke="none"/>
<text x="83.00" y="404.50" font-size="24">Ø40</text>
<text x="279.00" y="404.50" font-size="24">Ø30</text>
<text x="262.00" y="433.50" font-size="24">16</text>
<text x="185.80" y="527.00" font-size="24">Ø4</text>
<text x="175.00" y="561.00" font-size="24">Ø23</text>
<text x="468.50" y="559.00" font-size="24">Ø40</text>
<text x="164.00" y="70.50" font-size="24">212</text>
<text x="52.00" y="150.10" font-size="24">105</text>
<text x="146.30" y="133.60" font-size="24">16</text>
<text x="174.70" y="134.60" font-size="24">°</text>
<text x="295.00" y="111.00" font-size="24">245</text>
<text x="474.00" y="151.00" font-size="24">Ø65</text>
<text transform="translate(460.50 225.00) scale(0.975 1)" x="0" y="0" font-size="24">max.40</text>
<text x="277.30" y="307.50" font-size="24">190</text>
<text x="362.40" y="384.30" font-size="24">G</text>
<text x="385.30" y="372.90" font-size="14">1</text>
<text transform="translate(392.1 384.4) scale(0.66 1)" font-size="24" stroke="#111" stroke-width="0.45">/</text>
<text x="398.50" y="384.60" font-size="14.3">2</text>
<text x="503.50" y="368.50" font-size="24">G</text>
<text x="525.00" y="356.90" font-size="14">1</text>
<text transform="translate(532.2 368.6) scale(0.66 1)" font-size="24" stroke="#111" stroke-width="0.45">/</text>
<text x="538.80" y="368.80" font-size="14.3">2</text>
<text x="181.00" y="214.50" font-size="24">155</text>
<text x="374.50" y="221.00" font-size="24">155</text>
<rect x="261.53" y="431.45" width="6.45" height="3.34" fill="#fff"/>
<rect x="270.23" y="431.45" width="5.02" height="3.34" fill="#fff"/>
<rect x="176.88" y="68.45" width="6.45" height="3.34" fill="#fff"/>
<rect x="185.57" y="68.45" width="5.02" height="3.34" fill="#fff"/>
<rect x="51.53" y="148.05" width="6.45" height="3.34" fill="#fff"/>
<rect x="60.23" y="148.05" width="5.02" height="3.34" fill="#fff"/>
<rect x="145.83" y="131.55" width="6.45" height="3.34" fill="#fff"/>
<rect x="154.53" y="131.55" width="5.02" height="3.34" fill="#fff"/>
<rect x="276.83" y="305.45" width="6.45" height="3.34" fill="#fff"/>
<rect x="285.53" y="305.45" width="5.02" height="3.34" fill="#fff"/>
<rect x="385.03" y="371.70" width="3.76" height="1.95" fill="#fff"/>
<rect x="390.10" y="371.70" width="2.93" height="1.95" fill="#fff"/>
<rect x="524.73" y="355.70" width="3.76" height="1.95" fill="#fff"/>
<rect x="529.80" y="355.70" width="2.93" height="1.95" fill="#fff"/>
<rect x="180.53" y="212.45" width="6.45" height="3.34" fill="#fff"/>
<rect x="189.23" y="212.45" width="5.02" height="3.34" fill="#fff"/>
<rect x="374.03" y="218.95" width="6.45" height="3.34" fill="#fff"/>
<rect x="382.73" y="218.95" width="5.02" height="3.34" fill="#fff"/>
</svg></body></html>
